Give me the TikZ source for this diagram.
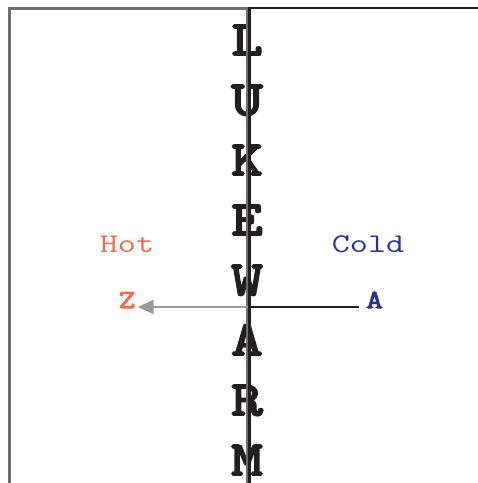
\documentclass[tikz,border=0pt]{standalone}
\usepackage{fontspec}
\usetikzlibrary{arrows.meta}
\newfontfamily\monoreg{Latin Modern Mono}[FakeStretch=1.3]
\newfontfamily\monobold{Latin Modern Mono}[FakeStretch=1.25,FakeBold=4]
\definecolor{framegray}{HTML}{6E6E6E}
\definecolor{arrowgray}{HTML}{9A9A9A}
\definecolor{inkdark}{HTML}{231F20}
\definecolor{hotc}{HTML}{F26B50}
\definecolor{coldc}{HTML}{2E3192}
\tikzset{
  x=1pt,y=-1pt,
  bigletter/.style={inner sep=0pt,anchor=base,text=inkdark,font=\monobold\fontsize{49}{49}\selectfont},
  sidelabel/.style={inner sep=0pt,anchor=base,font=\monoreg\fontsize{27}{27}\selectfont},
  endlabel/.style={inner sep=0pt,anchor=base,font=\monobold\fontsize{26}{26}\selectfont},
  grayline/.style={draw=framegray,line width=2.6pt},
  darkline/.style={draw=inkdark,line width=2.4pt},
}
\begin{document}
\begin{tikzpicture}
\useasboundingbox (0,0) rectangle (478,483);
\foreach \ch [count=\i from 0] in {L,U,K,E,W,A,R,M}{
  \node[bigletter] (l\i) at (247,{55+60*\i}) {\ch};
}
\node[sidelabel,text=hotc] (hot) at (127,252) {Hot};
\node[sidelabel,text=coldc] (cold) at (368,252) {Cold};
\node[endlabel,text=hotc] (z) at (127,308) {Z};
\node[endlabel,text=coldc] (a) at (374.5,308) {A};
% frame lines
\coordinate (gbl) at (9.5,483);
\coordinate (gtl) at (9.5,8.3);
\coordinate (gtc) at (247.3,8.3);
\coordinate (gbc) at (247.3,483);
\coordinate (dtc) at (249.6,7.7);
\coordinate (dbc) at (249.6,483);
\coordinate (dtr) at (478,7.7);
\draw[grayline] (gbl) -- (gtl) -- (gtc) -- (gbc);
\draw[darkline] (dtr) -- (dtc) -- (dbc);
% scale lines
\coordinate (mid) at (248,307);
\coordinate (midr) at (250,307);
\coordinate (aend) at (359,307);
\draw[draw=arrowgray,line width=1.8pt,-{Triangle[length=16pt,width=14pt]}] (mid) -- (137.7,307);
\draw[darkline] (midr) -- (aend);
\end{tikzpicture}
\end{document}
